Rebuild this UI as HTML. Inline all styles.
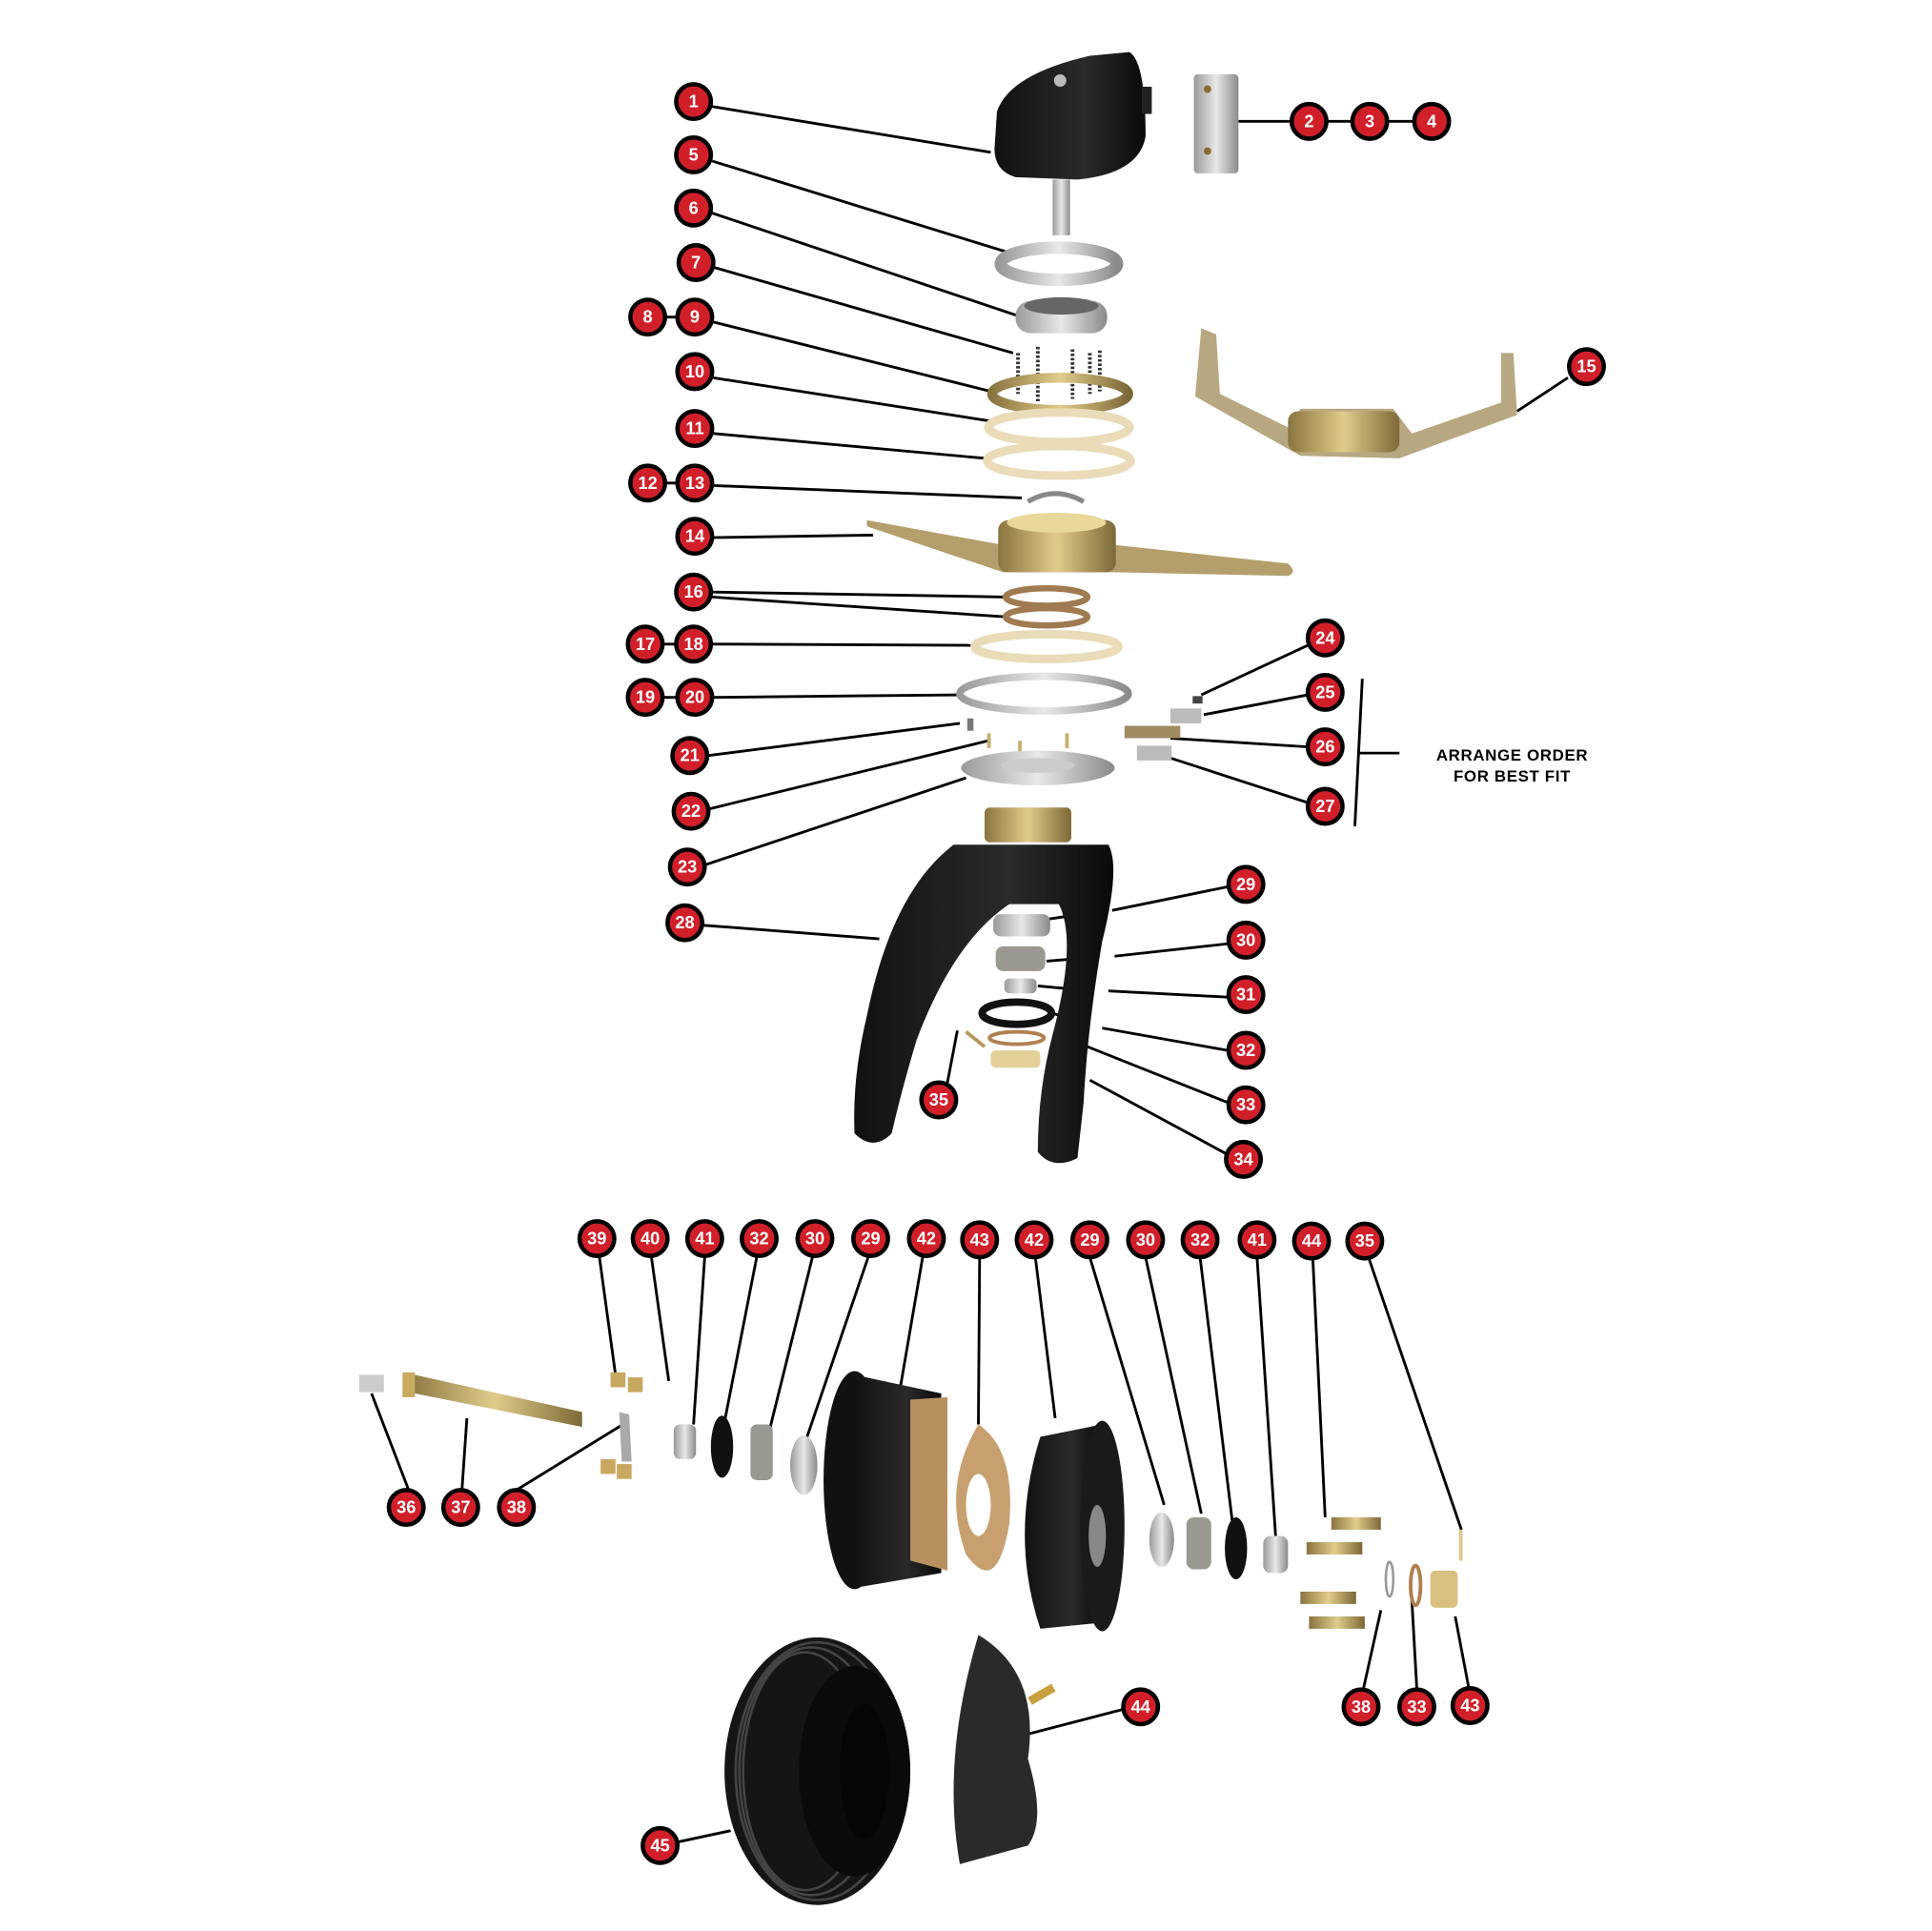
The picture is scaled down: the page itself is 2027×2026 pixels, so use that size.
<!DOCTYPE html>
<html><head><meta charset="utf-8"><style>
html,body{margin:0;padding:0;background:#fff;}
svg{display:block;}
.b circle{fill:#d11f2a;stroke:#000;stroke-width:3.5;}
.b text{fill:#fff;font-family:"Liberation Sans",sans-serif;font-weight:bold;font-size:14px;text-anchor:middle;dominant-baseline:central;}
.l{stroke:#000;stroke-width:2.2;fill:none;}
</style></head><body>
<svg width="2027" height="2026" viewBox="0 0 1560 1559" preserveAspectRatio="none" xmlns="http://www.w3.org/2000/svg">
<defs>
<linearGradient id="sil" x1="0" x2="1"><stop offset="0" stop-color="#9a9a98"/><stop offset=".5" stop-color="#e8e8e6"/><stop offset="1" stop-color="#8a8a88"/></linearGradient>
<linearGradient id="brass" x1="0" x2="1"><stop offset="0" stop-color="#8a7440"/><stop offset=".5" stop-color="#e0cc8a"/><stop offset="1" stop-color="#7d6838"/></linearGradient>
<linearGradient id="blk" x1="0" x2="1"><stop offset="0" stop-color="#111"/><stop offset=".6" stop-color="#2a2a2a"/><stop offset="1" stop-color="#0a0a0a"/></linearGradient>
</defs>

<g class="l">
<line x1="575" y1="86" x2="800" y2="123"/>
<line x1="1000" y1="98" x2="1160" y2="98"/>
<line x1="575" y1="130" x2="818" y2="205"/>
<line x1="575" y1="172" x2="822" y2="255"/>
<line x1="577" y1="216" x2="818" y2="285"/>
<line x1="523" y1="256" x2="561" y2="256"/>
<line x1="576" y1="260" x2="800" y2="316"/>
<line x1="576" y1="305" x2="800" y2="340"/>
<line x1="576" y1="350" x2="795" y2="370"/>
<line x1="523" y1="390" x2="561" y2="390"/>
<line x1="576" y1="392" x2="825" y2="402"/>
<line x1="576" y1="434" x2="705" y2="432"/>
<line x1="1266" y1="305" x2="1225" y2="332"/>
<line x1="575" y1="478" x2="812" y2="482"/>
<line x1="575" y1="482" x2="812" y2="498"/>
<line x1="521" y1="520" x2="560" y2="520"/>
<line x1="575" y1="520" x2="785" y2="521"/>
<line x1="521" y1="563" x2="561" y2="563"/>
<line x1="576" y1="563" x2="775" y2="561"/>
<line x1="572" y1="610" x2="775" y2="584"/>
<line x1="573" y1="653" x2="798" y2="598"/>
<line x1="570" y1="698" x2="780" y2="628"/>
<line x1="1056" y1="521" x2="970" y2="561"/>
<line x1="1056" y1="561" x2="972" y2="577"/>
<line x1="1056" y1="603" x2="945" y2="596"/>
<line x1="1056" y1="648" x2="945" y2="612"/>
<line x1="1100" y1="548" x2="1094" y2="667"/>
<line x1="1097" y1="608" x2="1130" y2="608"/>
<line x1="568" y1="747" x2="710" y2="758"/>
<line x1="991" y1="716" x2="898" y2="735"/>
<line x1="860" y1="740" x2="840" y2="743"/>
<line x1="991" y1="762" x2="900" y2="772"/>
<line x1="870" y1="774" x2="845" y2="776"/>
<line x1="991" y1="805" x2="895" y2="800"/>
<line x1="860" y1="798" x2="838" y2="796"/>
<line x1="991" y1="848" x2="890" y2="830"/>
<line x1="870" y1="825" x2="850" y2="818"/>
<line x1="991" y1="890" x2="878" y2="845"/>
<line x1="991" y1="932" x2="880" y2="872"/>
<line x1="765" y1="874" x2="773" y2="832"/>
<line x1="484" y1="1015" x2="497" y2="1110"/>
<line x1="526" y1="1015" x2="540" y2="1115"/>
<line x1="569" y1="1015" x2="560" y2="1150"/>
<line x1="611" y1="1015" x2="585" y2="1148"/>
<line x1="656" y1="1015" x2="620" y2="1160"/>
<line x1="701" y1="1015" x2="650" y2="1165"/>
<line x1="745" y1="1015" x2="727" y2="1120"/>
<line x1="791" y1="1015" x2="790" y2="1150"/>
<line x1="836" y1="1015" x2="852" y2="1145"/>
<line x1="880" y1="1015" x2="940" y2="1215"/>
<line x1="925" y1="1015" x2="970" y2="1222"/>
<line x1="969" y1="1015" x2="995" y2="1228"/>
<line x1="1015" y1="1015" x2="1030" y2="1240"/>
<line x1="1060" y1="1015" x2="1070" y2="1225"/>
<line x1="1105" y1="1015" x2="1180" y2="1235"/>
<line x1="330" y1="1203" x2="300" y2="1125"/>
<line x1="373" y1="1203" x2="377" y2="1145"/>
<line x1="417" y1="1203" x2="503" y2="1150"/>
<line x1="1101" y1="1363" x2="1115" y2="1300"/>
<line x1="1144" y1="1363" x2="1140" y2="1292"/>
<line x1="1186" y1="1363" x2="1175" y2="1305"/>
<line x1="907" y1="1380" x2="830" y2="1400"/>
<line x1="548" y1="1487" x2="590" y2="1478"/>
</g>

<path d="M805 90 Q815 60 880 45 L912 42 Q925 50 925 110 Q920 140 870 145 L820 143 Q803 138 803 120 Z" fill="url(#blk)"/>
<rect x="922" y="70" width="8" height="22" fill="#222"/>
<rect x="850" y="145" width="14" height="45" fill="url(#sil)"/>
<circle cx="856" cy="65" r="5" fill="#bbb"/>
<rect x="964" y="60" width="36" height="80" rx="3" fill="url(#sil)"/>
<circle cx="975" cy="72" r="3" fill="#8a6a30"/><circle cx="975" cy="122" r="3" fill="#8a6a30"/>
<ellipse cx="855" cy="213" rx="47" ry="13" fill="none" stroke="url(#sil)" stroke-width="10"/>
<rect x="820" y="243" width="74" height="26" rx="12" fill="url(#sil)"/>
<ellipse cx="857" cy="247" rx="30" ry="7" fill="#666"/>
<g stroke="#333" stroke-width="3" stroke-dasharray="2 1.5">
<line x1="822" y1="285" x2="822" y2="318"/><line x1="838" y1="280" x2="838" y2="325"/><line x1="866" y1="282" x2="866" y2="322"/><line x1="880" y1="285" x2="880" y2="318"/><line x1="888" y1="283" x2="888" y2="316"/></g>
<ellipse cx="856" cy="318" rx="55" ry="13" fill="none" stroke="url(#brass)" stroke-width="8"/>
<ellipse cx="855" cy="345" rx="57" ry="12" fill="none" stroke="#eadcb8" stroke-width="7"/>
<ellipse cx="855" cy="372" rx="58" ry="12" fill="none" stroke="#eadcb8" stroke-width="7"/>
<path d="M830 405 Q852 392 875 405" stroke="#888" stroke-width="4" fill="none"/>
<path d="M700 420 L810 440 L900 440 L1040 455 Q1048 462 1040 465 L900 462 L810 462 L700 425 Z" fill="#b49f6c"/>
<rect x="806" y="420" width="95" height="42" rx="8" fill="url(#brass)"/>
<ellipse cx="853" cy="422" rx="40" ry="8" fill="#e8d89a"/>
<path d="M970 265 L982 270 L985 318 L1040 345 L1050 330 L1125 330 L1140 350 L1212 325 L1212 285 L1222 285 L1225 335 L1130 370 L1050 368 L965 320 Z" fill="#b8a882"/>
<rect x="1040" y="332" width="90" height="33" rx="8" fill="url(#brass)"/>
<ellipse cx="845" cy="482" rx="33" ry="7" fill="none" stroke="#a07a50" stroke-width="5"/>
<ellipse cx="845" cy="498" rx="33" ry="7" fill="none" stroke="#a07a50" stroke-width="5"/>
<ellipse cx="845" cy="522" rx="58" ry="10" fill="none" stroke="#eadcb8" stroke-width="7"/>
<ellipse cx="843" cy="560" rx="68" ry="14" fill="none" stroke="url(#sil)" stroke-width="6"/>
<rect x="781" y="580" width="5" height="10" fill="#777"/>
<g fill="#c8b070"><rect x="797" y="592" width="3" height="12"/><rect x="822" y="598" width="3" height="12"/><rect x="860" y="592" width="3" height="12"/></g>
<ellipse cx="838" cy="620" rx="62" ry="14" fill="url(#sil)"/>
<ellipse cx="838" cy="618" rx="30" ry="6" fill="#ccc"/>
<rect x="963" y="562" width="8" height="6" fill="#444"/>
<rect x="945" y="572" width="25" height="12" fill="#bbb"/>
<rect x="908" y="586" width="45" height="10" fill="#a08a60"/>
<rect x="918" y="602" width="28" height="12" fill="#bbb"/>
<rect x="795" y="652" width="70" height="28" rx="4" fill="url(#brass)"/>
<path d="M770 682 L895 682 Q905 700 890 760 Q878 830 875 890 L870 935 Q850 945 838 930 Q838 880 850 835 Q870 760 855 730 L815 730 Q770 760 740 840 Q728 880 720 915 Q705 930 690 915 Q688 870 700 820 Q720 720 770 682 Z" fill="url(#blk)"/>
<rect x="802" y="738" width="46" height="18" rx="6" fill="url(#sil)"/>
<rect x="804" y="764" width="40" height="20" rx="6" fill="#9a9890"/>
<rect x="811" y="790" width="26" height="12" rx="4" fill="url(#sil)"/>
<ellipse cx="821" cy="818" rx="28" ry="9" fill="none" stroke="#111" stroke-width="6"/>
<ellipse cx="821" cy="838" rx="22" ry="5" fill="none" stroke="#b08050" stroke-width="3"/>
<rect x="800" y="848" width="40" height="14" rx="4" fill="#e2d29a"/>
<line x1="780" y1="833" x2="795" y2="845" stroke="#b89a60" stroke-width="3"/>

<rect x="290" y="1110" width="20" height="14" fill="#ccc"/>
<path d="M328 1110 L335 1110 L470 1140 L470 1152 L335 1125 L328 1125 Z" fill="url(#brass)"/>
<rect x="325" y="1108" width="10" height="20" fill="#c8aa60"/>
<g fill="#c8a860"><rect x="493" y="1108" width="12" height="12"/><rect x="507" y="1112" width="12" height="12"/><rect x="485" y="1178" width="12" height="12"/><rect x="498" y="1182" width="12" height="12"/></g>
<path d="M500 1140 L508 1142 L510 1180 L502 1180 Z" fill="#aaa"/>
<rect x="544" y="1150" width="18" height="28" rx="5" fill="url(#sil)"/>
<ellipse cx="583" cy="1168" rx="9" ry="25" fill="#111"/>
<rect x="606" y="1150" width="18" height="45" rx="5" fill="#9a9890"/>
<ellipse cx="649" cy="1183" rx="11" ry="24" fill="url(#sil)"/>
<ellipse cx="690" cy="1195" rx="25" ry="88" fill="#111"/>
<path d="M690 1110 L760 1125 L760 1270 L690 1282 Z" fill="url(#blk)"/>
<path d="M735 1130 L765 1128 L765 1268 L735 1260 Z" fill="#b89060"/>
<path d="M790 1150 Q820 1170 815 1230 Q805 1290 780 1255 Q760 1200 790 1150 Z" fill="#c8a070"/>
<ellipse cx="790" cy="1215" rx="10" ry="25" fill="#fff"/>
<path d="M840 1160 L890 1150 L890 1310 L840 1315 Q815 1240 840 1160 Z" fill="url(#blk)"/>
<ellipse cx="890" cy="1232" rx="18" ry="85" fill="#1a1a1a"/>
<ellipse cx="886" cy="1240" rx="7" ry="25" fill="#888"/>
<ellipse cx="938" cy="1243" rx="10" ry="22" fill="url(#sil)"/>
<rect x="958" y="1225" width="20" height="42" rx="6" fill="#9a9890"/>
<ellipse cx="998" cy="1250" rx="9" ry="25" fill="#111"/>
<rect x="1020" y="1240" width="20" height="30" rx="6" fill="url(#sil)"/>
<g fill="url(#brass)"><rect x="1075" y="1225" width="40" height="10"/><rect x="1055" y="1245" width="45" height="10"/><rect x="1050" y="1285" width="45" height="10"/><rect x="1057" y="1305" width="45" height="10"/></g>
<rect x="1178" y="1235" width="3" height="25" fill="#e0c890"/>
<ellipse cx="1122" cy="1275" rx="3" ry="14" fill="none" stroke="#999" stroke-width="2"/>
<ellipse cx="1143" cy="1280" rx="4" ry="16" fill="none" stroke="#b08050" stroke-width="3"/>
<rect x="1155" y="1268" width="22" height="30" rx="4" fill="#d8c080"/>

<ellipse cx="660" cy="1430" rx="75" ry="108" fill="#151515"/>
<g stroke="#444" stroke-width="2" fill="none">
<ellipse cx="660" cy="1430" rx="66" ry="104"/>
<ellipse cx="655" cy="1430" rx="58" ry="100"/>
<ellipse cx="650" cy="1430" rx="50" ry="96"/>
</g>
<ellipse cx="690" cy="1430" rx="45" ry="85" fill="#0a0a0a"/>
<ellipse cx="698" cy="1430" rx="20" ry="55" fill="#050505"/>
<path d="M790 1320 Q840 1350 830 1420 Q845 1470 830 1490 L775 1505 Q760 1420 790 1320 Z" fill="#2a2a2a"/>
<rect x="830" y="1365" width="22" height="7" fill="#c8a040" transform="rotate(-30 840 1368)"/>

<text x="1221" y="614" font-family="Liberation Sans, sans-serif" font-weight="bold" font-size="13" text-anchor="middle" letter-spacing="0.5">ARRANGE ORDER</text>
<text x="1221" y="631" font-family="Liberation Sans, sans-serif" font-weight="bold" font-size="13" text-anchor="middle" letter-spacing="0.5">FOR BEST FIT</text>

<g class="b">
<g transform="translate(560,82)"><circle r="14"/><text>1</text></g>
<g transform="translate(1057,98)"><circle r="14"/><text>2</text></g>
<g transform="translate(1106,98)"><circle r="14"/><text>3</text></g>
<g transform="translate(1156,98)"><circle r="14"/><text>4</text></g>
<g transform="translate(560,125)"><circle r="14"/><text>5</text></g>
<g transform="translate(560,168)"><circle r="14"/><text>6</text></g>
<g transform="translate(562,212)"><circle r="14"/><text>7</text></g>
<g transform="translate(523,256)"><circle r="14"/><text>8</text></g>
<g transform="translate(561,256)"><circle r="14"/><text>9</text></g>
<g transform="translate(561,300)"><circle r="14"/><text>10</text></g>
<g transform="translate(561,346)"><circle r="14"/><text>11</text></g>
<g transform="translate(523,390)"><circle r="14"/><text>12</text></g>
<g transform="translate(561,390)"><circle r="14"/><text>13</text></g>
<g transform="translate(561,433)"><circle r="14"/><text>14</text></g>
<g transform="translate(1281,296)"><circle r="14"/><text>15</text></g>
<g transform="translate(560,478)"><circle r="14"/><text>16</text></g>
<g transform="translate(521,520)"><circle r="14"/><text>17</text></g>
<g transform="translate(560,520)"><circle r="14"/><text>18</text></g>
<g transform="translate(521,563)"><circle r="14"/><text>19</text></g>
<g transform="translate(561,563)"><circle r="14"/><text>20</text></g>
<g transform="translate(557,610)"><circle r="14"/><text>21</text></g>
<g transform="translate(558,655)"><circle r="14"/><text>22</text></g>
<g transform="translate(555,700)"><circle r="14"/><text>23</text></g>
<g transform="translate(1070,515)"><circle r="14"/><text>24</text></g>
<g transform="translate(1070,559)"><circle r="14"/><text>25</text></g>
<g transform="translate(1070,603)"><circle r="14"/><text>26</text></g>
<g transform="translate(1070,651)"><circle r="14"/><text>27</text></g>
<g transform="translate(553,745)"><circle r="14"/><text>28</text></g>
<g transform="translate(1006,714)"><circle r="14"/><text>29</text></g>
<g transform="translate(1006,759)"><circle r="14"/><text>30</text></g>
<g transform="translate(1006,803)"><circle r="14"/><text>31</text></g>
<g transform="translate(1006,848)"><circle r="14"/><text>32</text></g>
<g transform="translate(1006,892)"><circle r="14"/><text>33</text></g>
<g transform="translate(1004,936)"><circle r="14"/><text>34</text></g>
<g transform="translate(758,888)"><circle r="14"/><text>35</text></g>
<g transform="translate(482,1000)"><circle r="14"/><text>39</text></g>
<g transform="translate(525,1000)"><circle r="14"/><text>40</text></g>
<g transform="translate(569,1000)"><circle r="14"/><text>41</text></g>
<g transform="translate(613,1000)"><circle r="14"/><text>32</text></g>
<g transform="translate(658,1000)"><circle r="14"/><text>30</text></g>
<g transform="translate(703,1000)"><circle r="14"/><text>29</text></g>
<g transform="translate(748,1000)"><circle r="14"/><text>42</text></g>
<g transform="translate(791,1001)"><circle r="14"/><text>43</text></g>
<g transform="translate(835,1001)"><circle r="14"/><text>42</text></g>
<g transform="translate(880,1001)"><circle r="14"/><text>29</text></g>
<g transform="translate(925,1001)"><circle r="14"/><text>30</text></g>
<g transform="translate(969,1001)"><circle r="14"/><text>32</text></g>
<g transform="translate(1015,1001)"><circle r="14"/><text>41</text></g>
<g transform="translate(1059,1002)"><circle r="14"/><text>44</text></g>
<g transform="translate(1102,1002)"><circle r="14"/><text>35</text></g>
<g transform="translate(328,1217)"><circle r="14"/><text>36</text></g>
<g transform="translate(372,1217)"><circle r="14"/><text>37</text></g>
<g transform="translate(417,1217)"><circle r="14"/><text>38</text></g>
<g transform="translate(1099,1378)"><circle r="14"/><text>38</text></g>
<g transform="translate(1144,1378)"><circle r="14"/><text>33</text></g>
<g transform="translate(1187,1377)"><circle r="14"/><text>43</text></g>
<g transform="translate(921,1378)"><circle r="14"/><text>44</text></g>
<g transform="translate(533,1490)"><circle r="14"/><text>45</text></g>
</g>
</svg>
</body></html>
